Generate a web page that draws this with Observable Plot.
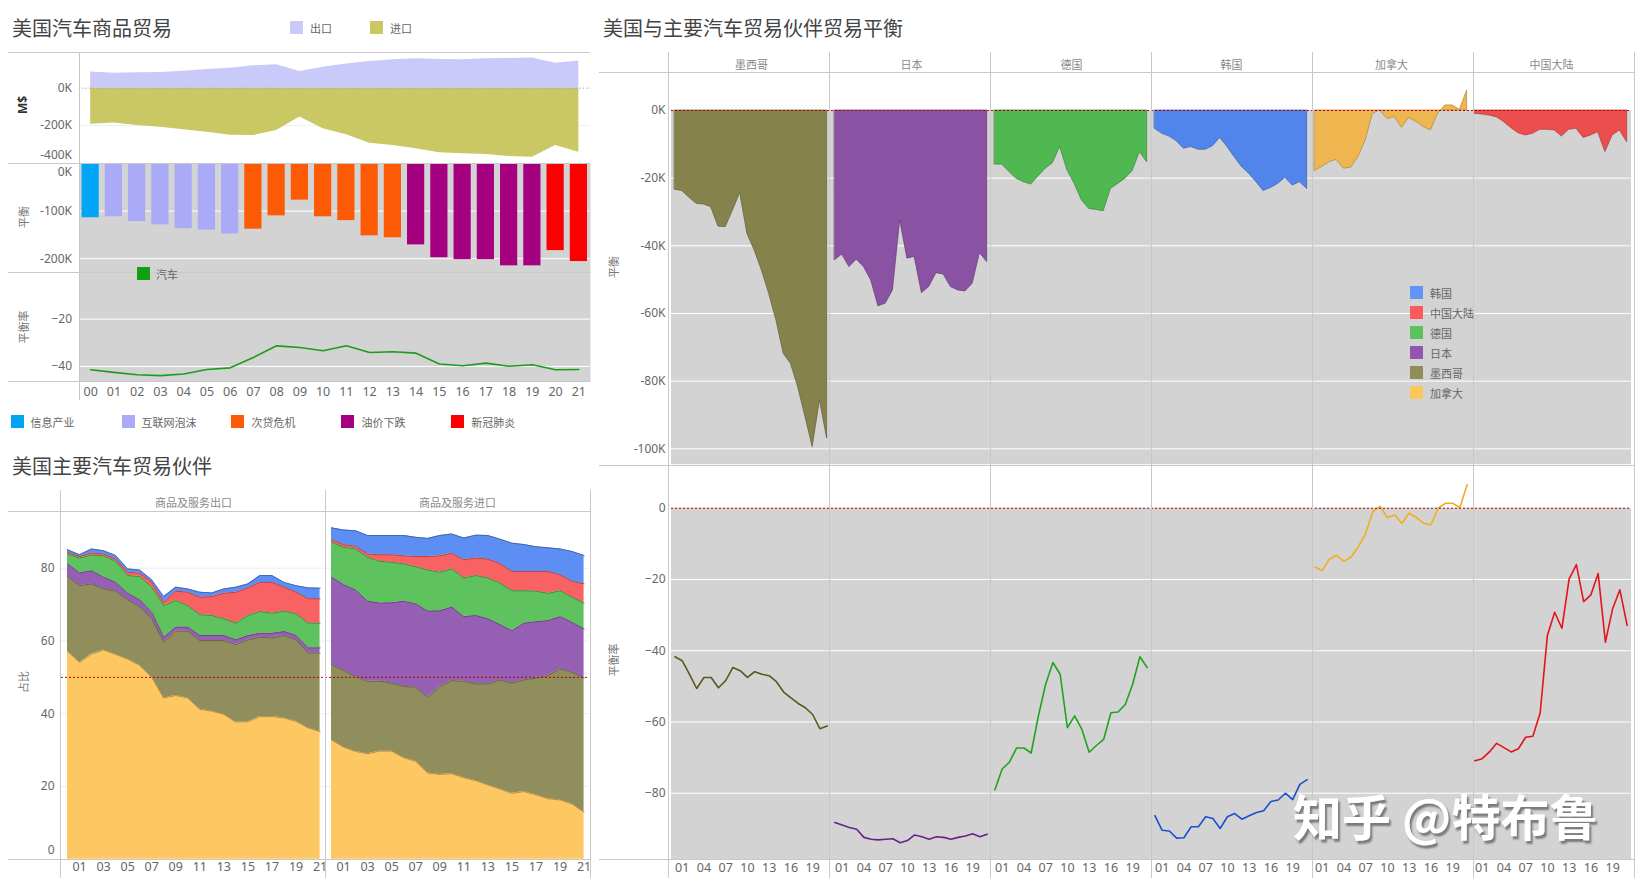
<!DOCTYPE html>
<html><head><meta charset="utf-8">
<script src="https://cdn.jsdelivr.net/npm/d3@7"></script>
<script src="https://cdn.jsdelivr.net/npm/@observablehq/plot@0.6"></script>
<style>
body{margin:0;background:#fff;}
#root{position:relative;width:1642px;height:885px;overflow:hidden;font-family:"Noto Sans CJK SC","Noto Sans",sans-serif;}
.hl{position:absolute;height:0;border-top:1px solid #c8c8c8;}
.vl{position:absolute;width:0;border-left:1px solid #c8c8c8;}
.title{position:absolute;font-size:20px;color:#444;line-height:1;transform:translateY(-50%);white-space:nowrap;}
.rot{position:absolute;transform:translate(-50%,-50%) rotate(-90deg);font-size:11px;color:#777;white-space:nowrap;line-height:1;}
.sw{position:absolute;width:13px;height:13px;}
.lg{position:absolute;font-size:11px;color:#666;transform:translateY(-50%);white-space:nowrap;line-height:1;}
.wm{position:absolute;font-size:49px;font-weight:bold;color:#fff;white-space:nowrap;line-height:1;text-shadow:2px 3px 2px #7a7a7a;font-family:"Noto Sans CJK SC",sans-serif;}
</style></head><body><div id="root"></div><script>
// ---------------- DATA ----------------
const years = [2000,2001,2002,2003,2004,2005,2006,2007,2008,2009,2010,2011,2012,2013,2014,2015,2016,2017,2018,2019,2020,2021];
// 美国汽车商品贸易 (K$)
const exportsK = [86,80,82,84,91,100,107,120,125,89,112,130,143,152,157,154,152,157,159,162,134,145];
const importsK = [-193,-187,-200,-209,-223,-236,-252,-254,-227,-155,-218,-250,-295,-307,-325,-346,-352,-355,-366,-370,-307,-343];
const balanceK = [-114,-112,-122,-129,-137,-140,-148,-138,-110,-77,-112,-120,-152,-156,-171,-198,-202,-202,-215,-215,-183,-206];
const balanceRate = [-41.4,-42.5,-43.5,-43.9,-43.2,-41.3,-40.6,-36.2,-31.3,-32.0,-33.4,-31.3,-34.1,-33.8,-34.4,-39.0,-39.7,-38.6,-39.9,-39.3,-41.4,-41.3];
const eraNames = ["信息产业","互联网泡沫","次贷危机","油价下跌","新冠肺炎"];
const yearEra = ["信息产业","互联网泡沫","互联网泡沫","互联网泡沫","互联网泡沫","互联网泡沫","互联网泡沫",
  "次贷危机","次贷危机","次贷危机","次贷危机","次贷危机","次贷危机","次贷危机",
  "油价下跌","油价下跌","油价下跌","油价下跌","油价下跌","油价下跌","新冠肺炎","新冠肺炎"];
const eraColors = ["#00a6f5","#aaaaf7","#fd5a06","#a5007f","#fb0000"];
const tradeLegend = ["出口","进口"];

// 美国主要汽车贸易伙伴 (占比 %)
const flowNames = ["商品及服务出口","商品及服务进口"];
const stackPartners = ["加拿大","墨西哥","日本","德国","中国大陆","韩国"];
const expCanada  = [57.2,54.1,56.4,57.5,56.3,55.0,53.3,50.0,44.3,45.0,44.3,41.2,40.7,39.8,37.7,37.8,39.2,39.2,38.8,37.9,36.1,35.1];
const expMexico  = [20.5,21.1,19.3,16.8,17.4,16.3,16.1,16.1,15.3,17.7,18.4,18.9,19.4,20.3,21.3,22.5,21.8,21.6,22.7,22.4,20.6,21.6];
const expJapan   = [3.5,3.5,3.6,3.2,2.4,1.8,1.9,1.8,1.4,1.1,1.1,1.4,1.4,1.4,1.3,1.2,1.1,1.3,1.1,1.2,1.4,1.4];
const expGermany = [2.7,4.1,4.3,5.9,5.8,4.9,6.4,6.9,8.7,7.3,5.9,5.7,5.5,4.6,4.6,5.5,6.0,5.5,5.6,5.9,6.8,6.8];
const expChina   = [0.5,0.4,0.6,0.5,0.6,0.9,0.9,1.3,0.9,2.6,3.7,4.8,5.2,7.0,8.5,7.6,8.0,8.5,6.6,6.0,6.7,6.7];
const expKorea   = [0.7,0.5,1.1,0.9,1.0,0.9,0.9,0.7,1.6,1.1,0.9,1.4,1.0,1.2,1.4,1.1,1.9,1.9,1.3,1.8,3.0,2.9];
const impCanada  = [32.8,30.8,29.6,29.0,29.7,29.7,27.9,26.9,23.7,23.3,23.5,22.4,21.6,20.4,19.3,18.1,18.6,17.7,16.6,16.3,15.2,12.9];
const impMexico  = [20.7,21.1,20.6,19.9,19.2,18.7,19.6,20.4,20.8,24.2,25.6,26.5,26.6,27.8,30.0,30.3,30.7,32.1,33.9,36.0,36.2,36.9];
const impJapan   = [24.0,23.6,23.8,22.0,21.5,22.1,23.4,22.9,23.7,20.8,20.2,17.8,18.8,17.9,15.2,14.4,15.6,15.5,15.1,14.4,13.7,13.5];
const impGermany = [9.6,10.3,11.3,12.1,11.5,11.1,10.3,10.2,11.3,10.6,10.5,10.6,11.0,11.2,11.4,11.0,8.9,8.4,7.5,7.1,6.9,7.1];
const impChina   = [0.7,0.7,0.7,0.9,1.8,2.1,2.2,2.8,3.7,4.5,4.3,5.0,4.8,5.2,5.4,5.3,5.3,5.4,6.0,4.4,4.4,5.3];
const impKorea   = [3.3,4.0,4.3,5.1,5.3,5.3,5.6,5.3,5.0,5.6,5.3,6.0,6.3,6.5,6.7,7.8,7.4,6.8,6.5,7.1,8.2,7.8];

// 美国与主要汽车贸易伙伴贸易平衡
const facetPartners = ["墨西哥","日本","德国","韩国","加拿大","中国大陆"];
const legendPartners = ["韩国","中国大陆","德国","日本","墨西哥","加拿大"];
const balMexico  = [-23.4,-23.8,-25.8,-27.6,-27.8,-28.6,-34.3,-34.5,-29.6,-24.4,-36.5,-41.4,-47.3,-54.2,-62.1,-71.9,-74.9,-81.8,-90.6,-99.5,-85.7,-97.0];
const balJapan   = [-44.3,-42.6,-46.3,-44.1,-46.3,-50.2,-57.9,-57.1,-53.2,-32.5,-43.8,-43.3,-54.0,-52.2,-48.1,-48.5,-52.2,-53.2,-53.5,-51.2,-42.2,-44.8];
const balGermany = [-16.0,-16.0,-18.2,-20.2,-21.2,-21.9,-19.5,-17.2,-15.6,-10.8,-17.7,-21.7,-26.6,-29.1,-29.4,-29.8,-23.2,-21.7,-20.2,-17.9,-12.3,-15.3];
const balKorea   = [-5.4,-6.9,-7.7,-9.1,-11.3,-10.8,-11.6,-11.6,-10.6,-8.1,-10.8,-13.8,-16.7,-18.7,-21.2,-23.8,-22.9,-21.7,-19.9,-22.2,-21.2,-23.2];
const balCanada  = [-17.9,-16.7,-15.3,-14.6,-17.2,-16.9,-13.8,-8.9,-1.0,0.0,-2.5,-2.0,-5.1,-2.2,-3.4,-4.9,-5.9,-1.0,1.5,1.5,0.2,5.9];
const balChina   = [-1.0,-1.2,-1.5,-2.0,-3.4,-5.2,-6.7,-7.4,-6.9,-5.7,-5.7,-5.9,-7.7,-5.7,-5.4,-8.1,-7.4,-6.4,-12.3,-7.4,-5.9,-9.4];
const rateMexico  = [-41.7,-42.8,-46.6,-50.6,-47.5,-47.5,-50.4,-48.4,-44.7,-45.6,-47.5,-45.9,-46.6,-47.0,-48.7,-51.6,-53.2,-54.8,-56.0,-57.9,-61.9,-61.1];
const rateJapan   = [-88.2,-88.9,-89.6,-90.1,-92.4,-92.9,-93.1,-92.9,-92.8,-93.9,-93.3,-91.7,-92.2,-92.9,-92.2,-92.4,-92.9,-92.4,-92.0,-91.4,-92.2,-91.5];
const rateGermany = [-79.0,-73.2,-71.3,-67.3,-67.3,-68.7,-58.3,-49.4,-43.3,-46.6,-61.6,-58.3,-62.1,-68.5,-66.6,-64.9,-57.4,-57.2,-55.0,-49.4,-41.7,-44.7];
const rateKorea   = [-86.3,-90.4,-90.6,-92.6,-92.5,-89.4,-89.4,-86.6,-87.1,-89.9,-86.6,-85.7,-87.3,-86.3,-85.4,-84.9,-82.3,-81.9,-80.0,-81.8,-77.5,-76.2];
const rateCanada  = [-16.5,-17.5,-14.3,-13.2,-14.9,-13.7,-10.8,-7.1,-0.9,0.5,-2.6,-1.9,-4.2,-1.4,-2.6,-4.2,-4.7,0.0,1.4,1.4,0.2,6.6];
const rateChina   = [-70.9,-70.3,-68.4,-66.0,-67.2,-68.4,-67.5,-64.3,-64.0,-57.5,-35.7,-29.2,-33.7,-19.8,-15.8,-26.2,-24.3,-18.3,-37.6,-28.2,-22.9,-32.9];

// tick labels
const tradeYTicks = [0,-200,-400];
const balYTicks = [0,-100,-200];
const rateYTicks = [-20,-40];
const shareYTicks = [0,20,40,60,80];
const shareXTicks = [2001,2003,2005,2007,2009,2011,2013,2015,2017,2019,2021];
const partnerBalTicks = [0,-20,-40,-60,-80,-100];
const partnerRateTicks = [0,-20,-40,-60,-80];
const partnerXTicks = [2001,2004,2007,2010,2013,2016,2019];

// ---------------- STYLES ----------------
const GRAY = "#d3d3d3";
const C_EXP = "#c9c9fa", C_IMP = "#c9c864", C_LINE = "#1a9e1a";
const eraColor = Object.fromEntries(eraNames.map((e,i)=>[e, eraColors[i]]));
const shareColor = {"加拿大":"#fdc862","墨西哥":"#8f8e5c","日本":"#9560b3","德国":"#5ec35e","中国大陆":"#f96262","韩国":"#5d8ef3"};
const legendColor = {"加拿大":"#fcc75a","墨西哥":"#8f8d58","日本":"#9455b0","德国":"#5cc35c","中国大陆":"#f95a5a","韩国":"#6095f5"};
const areaColor = {"墨西哥":"#85834b","日本":"#8a52a3","德国":"#50b850","韩国":"#5285ec","加拿大":"#efb64f","中国大陆":"#ec4e4e"};
const lineColor = {"墨西哥":"#5a581c","日本":"#6a208e","德国":"#1fa41f","韩国":"#1c4fd0","加拿大":"#f0ae22","中国大陆":"#e2141c"};
const darker = c => d3.color(c).darker(0.9).formatHex();

const baseStyle = {fontFamily: '"Noto Sans","Noto Sans CJK SC",sans-serif', fontSize: "12px", color: "#666", background: "transparent", overflow: "visible"};
const kFmt = d => d + "K";
const yy = d => String(d % 100).padStart(2, "0");

// ---------------- TABLES ----------------
const tradeRows = years.map((y,i)=>({year:y, exp:exportsK[i], imp:importsK[i], bal:balanceK[i], rate:balanceRate[i], era:yearEra[i]}));
const shareSeries = {
  "商品及服务出口": {"加拿大":expCanada,"墨西哥":expMexico,"日本":expJapan,"德国":expGermany,"中国大陆":expChina,"韩国":expKorea},
  "商品及服务进口": {"加拿大":impCanada,"墨西哥":impMexico,"日本":impJapan,"德国":impGermany,"中国大陆":impChina,"韩国":impKorea}
};
const shareRows = [];
flowNames.forEach(f => years.forEach((y,i) => stackPartners.forEach(p => shareRows.push({flow:f, year:y, partner:p, share:shareSeries[f][p][i]}))));
const balSeries = {"墨西哥":balMexico,"日本":balJapan,"德国":balGermany,"韩国":balKorea,"加拿大":balCanada,"中国大陆":balChina};
const rateSeries = {"墨西哥":rateMexico,"日本":rateJapan,"德国":rateGermany,"韩国":rateKorea,"加拿大":rateCanada,"中国大陆":rateChina};
const partnerRows = [];
facetPartners.forEach(p => years.forEach((y,i) => partnerRows.push({partner:p, year:y, bal:balSeries[p][i], rate:rateSeries[p][i]})));

// ---------------- LAYOUT HELPERS ----------------
const root = document.getElementById("root");
function put(el, left, top){ el.style.position="absolute"; el.style.left=left+"px"; el.style.top=top+"px"; root.appendChild(el); return el; }
function mk(cls, text, css){ const d=document.createElement("div"); d.className=cls; if(text!=null) d.textContent=text; if(css) Object.assign(d.style, css); return d; }
function hline(x1,x2,y){ put(mk("hl",null,{width:(x2-x1)+"px"}), x1, y); }
function vline(x,y1,y2){ put(mk("vl",null,{height:(y2-y1)+"px"}), x, y1); }

// ---------------- TOP-LEFT ----------------
const yrDom = [1999.5, 2021.5];
const axisOpts = {tickSize:0, tickPadding:7, label:null};
const A1 = Plot.plot({
  width:590, height:110.7, marginLeft:78.5, marginRight:0, marginTop:0, marginBottom:0, style:baseStyle,
  x:{domain:yrDom, axis:null}, y:{domain:[-402,191]},
  marks:[
    Plot.ruleY([-200], {stroke:"#efefef"}),
    Plot.areaY(tradeRows, {x:"year", y1:0, y2:"exp", fill:C_EXP}),
    Plot.areaY(tradeRows, {x:"year", y1:0, y2:"imp", fill:C_IMP}),
    Plot.ruleY([0], {stroke:"#aaa", strokeDasharray:"1.5,2"}),
    Plot.axisY(tradeYTicks.slice(0,2), {...axisOpts, tickFormat:kFmt}),
    Plot.axisY(tradeYTicks.slice(2), {...axisOpts, tickFormat:kFmt, dy:-8})
  ]
});
put(A1, 0, 52);

const A2 = Plot.plot({
  width:590, height:109, marginLeft:78.5, marginRight:0, marginTop:0, marginBottom:0, style:baseStyle,
  x:{domain:yrDom, axis:null}, y:{domain:[-229,0]}, color:{type:"identity"},
  marks:[
    Plot.frame({fill:GRAY, stroke:"none"}),
    Plot.ruleY([-100,-200], {stroke:"#fff"}),
    Plot.rect(tradeRows, {x1:d=>d.year-0.37, x2:d=>d.year+0.37, y1:0, y2:"bal", fill:d=>eraColor[d.era]}),
    Plot.axisY(balYTicks.slice(1), {...axisOpts, tickFormat:kFmt}),
    Plot.axisY(balYTicks.slice(0,1), {...axisOpts, tickFormat:kFmt, dy:9})
  ]
});
put(A2, 0, 162.7);

const A3 = Plot.plot({
  width:590, height:129.3, marginLeft:78.5, marginRight:0, marginTop:0, marginBottom:20, style:baseStyle,
  x:{domain:yrDom}, y:{domain:[-46.5,-0.3]},
  marks:[
    Plot.frame({fill:GRAY, stroke:"none"}),
    Plot.ruleY(rateYTicks, {stroke:"#fff"}),
    Plot.lineY(tradeRows, {x:"year", y:"rate", stroke:C_LINE, strokeWidth:1.6}),
    Plot.axisY(rateYTicks, axisOpts),
    Plot.axisX(years, {tickSize:0, tickPadding:5, tickFormat:yy, label:null, fontSize:12.5})
  ]
});
put(A3, 0, 271.7);

// ---------------- BOTTOM-LEFT ----------------
const B = Plot.plot({
  width:589.6, height:387.6, marginLeft:59.7, marginRight:0, marginTop:21, marginBottom:18.9, style:baseStyle,
  fx:{domain:flowNames, padding:0, label:null},
  x:{domain:[1999.5,2021.45]}, y:{domain:[0,95.6]}, color:{type:"identity"},
  marks:[
    Plot.ruleY(shareYTicks.slice(1), {stroke:"#eeeeee"}),
    Plot.areaY(shareRows, {x:"year", y:"share", z:"partner", fx:"flow", fill:d=>shareColor[d.partner]}),
    Plot.lineY(shareRows, Plot.stackY2({x:"year", y:"share", z:"partner", fx:"flow", stroke:d=>darker(shareColor[d.partner]), strokeWidth:1})),
    Plot.ruleY([50], {stroke:"#b40000", strokeDasharray:"2,2"}),
    Plot.axisFx({anchor:"top", tickSize:0, tickPadding:4, label:null, fontSize:11, color:"#888"}),
    Plot.axisX(shareXTicks, {tickSize:0, tickPadding:3, tickFormat:yy, label:null, fontSize:12.5}),
    Plot.axisY(shareYTicks.slice(1), axisOpts),
    Plot.axisY(shareYTicks.slice(0,1), {...axisOpts, dy:-9})
  ]
});
put(B, 0, 490);

// ---------------- RIGHT ----------------
const xr = [1999.53, 2021.6];
const yC = [-104.7, 11.14];
const C = Plot.plot({
  width:1034.6, height:412.2, marginLeft:69, marginRight:0, marginTop:20.3, marginBottom:0, style:baseStyle,
  fx:{domain:facetPartners, padding:0, label:null},
  x:{domain:xr, axis:null}, y:{domain:yC}, color:{type:"identity"},
  marks:[
    Plot.rect([0], {x1:xr[0], x2:xr[1], y1:0, y2:yC[0], fill:GRAY}),
    Plot.ruleY(partnerBalTicks.slice(1), {stroke:"#fff"}),
    Plot.areaY(partnerRows, {x:"year", y1:0, y2:"bal", z:"partner", fx:"partner", fill:d=>areaColor[d.partner], stroke:d=>darker(areaColor[d.partner]), strokeWidth:0.7}),
    Plot.ruleY([0], {stroke:"#b40000", strokeDasharray:"2,2"}),
    Plot.axisFx({anchor:"top", tickSize:0, tickPadding:4, label:null, fontSize:11, color:"#888"}),
    Plot.axisY(partnerBalTicks, {tickSize:0, tickPadding:6, label:null, tickFormat:kFmt})
  ]
});
put(C, 599, 52);

const yD = [-98.8, 12.0];
const D = Plot.plot({
  width:1034.6, height:413.6, marginLeft:69, marginRight:0, marginTop:0, marginBottom:18.9, style:baseStyle,
  fx:{domain:facetPartners, padding:0, axis:null, label:null},
  x:{domain:xr}, y:{domain:yD}, color:{type:"identity"},
  marks:[
    Plot.rect([0], {x1:xr[0], x2:xr[1], y1:0, y2:yD[0], fill:GRAY}),
    Plot.ruleY(partnerRateTicks.slice(1), {stroke:"#fff"}),
    Plot.lineY(partnerRows, {x:"year", y:"rate", z:"partner", fx:"partner", stroke:d=>lineColor[d.partner], strokeWidth:1.6}),
    Plot.ruleY([0], {stroke:"#b40000", strokeDasharray:"2,2"}),
    Plot.axisY(partnerRateTicks, {tickSize:0, tickPadding:6, label:null}),
    Plot.axisX(partnerXTicks, {tickSize:0, tickPadding:3, tickFormat:yy, label:null, fontSize:12.5})
  ]
});
put(D, 599, 464.5);

// ---------------- FRAME LINES ----------------
[52,162.7,271.7,381].forEach(y=>hline(8,589.6,y));
vline(78.5,52,400);
[511,858.7].forEach(y=>hline(8,589.6,y));
[59.7,324.6,589.6].forEach(x=>vline(x,490,877.6));
[72.3,464.5,858.7].forEach(y=>hline(599,1633.6,y));
[0,1,2,3,4,5,6].forEach(k=>vline(668+k*160.93,52,877.6));

// ---------------- TEXT ----------------
put(mk("title","美国汽车商品贸易"), 12, 28);
put(mk("title","美国主要汽车贸易伙伴"), 12, 466);
put(mk("title","美国与主要汽车贸易伙伴贸易平衡"), 603, 28);
put(mk("rot","M$",{fontWeight:"bold",color:"#333",fontSize:"12px",fontFamily:"Noto Sans"}), 23, 105);
put(mk("rot","平衡"), 23, 217);
put(mk("rot","平衡率"), 23, 327);
put(mk("rot","占比"), 23, 682);
put(mk("rot","平衡"), 613, 267);
put(mk("rot","平衡率"), 613, 660);

// legends
[[C_EXP,290,310],[C_IMP,370,390]].forEach(([c,sx,tx],i)=>{ put(mk("sw",null,{background:c}),sx,21); put(mk("lg",tradeLegend[i]),tx,27.5); });
const eraX = [10.5,121.5,231.4,341.4,451.3];
eraNames.forEach((e,i)=>{ put(mk("sw",null,{background:eraColors[i]}),eraX[i],415); put(mk("lg",e),eraX[i]+20,421.5); });
put(mk("sw",null,{background:"#11a011"}),137,267); put(mk("lg","汽车"),156,274);
legendPartners.forEach((p,i)=>{ put(mk("sw",null,{background:legendColor[p]}),1410,286+i*20); put(mk("lg",p),1430,293+i*20); });

put(mk("wm","知乎 @特布鲁"), 1293, 790);
</script></body></html>
